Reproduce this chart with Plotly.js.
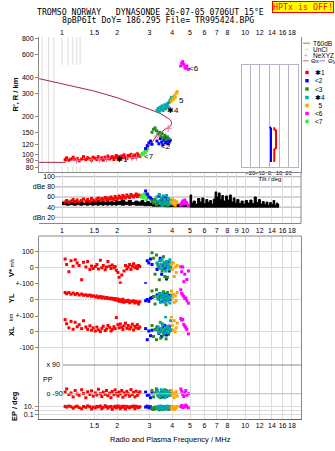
<!DOCTYPE html>
<html>
<head>
<meta charset="utf-8">
<script src="https://cdn.plot.ly/plotly-3.0.1.min.js"></script>
<style>
html,body{margin:0;padding:0;background:#fff}
#chart{width:335px;height:451px}
</style>
</head>
<body>
<div id="chart"></div>
<script>
// ---- axis ticks ----
const freqTicks = [1, 1.5, 2, 3, 4, 5, 6, 7, 8, 10, 12, 14, 16, 18];
const freqTicksMid = [1, 1.5, 2, 3, 4, 5, 6, 7, 8, 9, 10, 12, 14, 16, 18];
const heightTicks = [80, 90, 100, 120, 150, 200, 300, 400, 600, 800];
const ampTicks = [100, 80, 60, 40, 20];
const ampTickText = ['100', 'dBe 80', '60', '40', 'dBn 20'];
const tiltTicks = [-20, -10, 0, 10, 20];

// ---- model profile (plasma frequency / MHz vs height / km) ----
const profF = [0.75,1.04,1.05,1.3,1.6,2.0,2.3,2.56,2.8,3.02,3.28,3.5,3.65,3.82,3.92,3.97,3.94,3.85,3.65,3.43,3.0,2.45,2.0,1.5,1.25,1.0,0.75];
const profH = [87.5,87.5,91,92,93,94.5,95.5,96,106,119,140,152,158,163,168,176,183,190,200,210,226,252,278,313,332,360,391];
const neF = [1.2,1.45,1.6,1.75,2.25,2.4,2.55,3.3,3.8];
const neH = [91,92,93,93.5,95,95.5,96,140,161];

// ---- tilt profile ----
const thetaXH = [88,95,110,113,130,155,158,164];
const thetaX  = [5.0,5.0,5.0,6.8,6.8,6.8,5.0,5.0];
const thetaYH = [88,120,160,165];
const thetaY  = [1.6,1.6,1.6,0.3];

// ---- echo group 1 (red) ----
const redF = [1.04,1.06,1.09,1.12,1.15,1.18,1.21,1.24,1.28,1.31,1.35,1.38,1.42,1.45,1.48,1.52,1.55,1.58,1.62,1.65,1.68,1.72,1.75,1.78,1.82,1.85,1.88,1.92,1.95,1.98,2.02,2.05,2.08,2.12,2.15,2.18,2.22,2.26,2.30,2.34,2.38,2.42,2.46,2.50,2.54,2.58,2.62,2.66];
const redH = [92,95,91,93,96,92,94,90,93,97,92,95,93,91,96,94,92,97,93,95,91,96,94,98,93,95,97,92,96,99,94,97,93,98,95,100,96,94,99,97,101,95,98,100,96,102,99,97];
const redA = [50,53,49,52,55,51,54,50,53,56,52,55,51,57,54,52,56,58,53,57,55,59,54,58,56,60,57,55,61,58,56,62,59,57,63,60,58,64,61,59,65,62,60,63,66,61,64,62];
const redV = [55,20,-25,45,10,50,30,15,-75,35,5,40,-10,12,-5,8,20,-8,48,0,15,-12,5,40,10,-5,18,0,8,-15,-30,-60,-95,-45,-110,-20,15,-8,5,20,-10,10,25,0,12,-5,15,8];
const redYL = [45,38,46,35,42,33,40,30,36,28,32,25,30,22,26,18,24,15,20,12,18,10,14,8,12,5,10,2,8,-2,5,-8,0,-12,3,-15,-5,-10,-2,-18,-8,-12,-5,-20,-10,-15,-25,-12];
const redXL = [77,51,25,66,16,60,32,45,20,70,30,15,38,10,25,5,30,12,2,22,35,8,18,40,28,5,15,32,20,90,45,25,50,30,15,38,55,22,40,18,30,48,12,35,25,45,20,30];
const redPP = [-80,-60,-95,-85,-110,-70,-92,-100,-65,-88,-115,-78,-95,-72,-105,-85,-98,-62,-90,-108,-80,-94,-70,-102,-86,-115,-76,-96,-66,-88,-104,-80,-92,-70,-112,-85,-98,-75,-90,-106,-64,-95,-82,-110,-74,-100,-88,-78];
const redEP = [12,8,15,10,4,9,14,6,3,11,7,16,10,2.5,8,5,12,9,15,3,7,18,10,4,9,12,2,8,13,5,16,9,3,11,7,14,2.5,12,8,5,11,9,15,3,13,8,6,10];

// ---- echo group 7 (lime) ----
const limeF = [2.7,2.74,2.78,2.82,2.86,2.9,2.94];
const limeH = [100,103,101,105,104,108,112];
const limeA = [60,64,58,66,62,55,63];

// ---- echo group 2 (blue) ----
const blueF = [2.86,2.92,2.98,3.04,3.1,3.3,3.38,3.44,3.5,3.55,3.6,3.64,3.68,3.72,3.76,3.8,3.85,3.9];
const blueH = [112,118,124,128,121,128,122,134,126,120,130,136,124,128,132,122,126,130];
const blueA = [72,66,60,58,55,50,62,48,56,52,60,47,54,58,50,46,53,49];
const blueV = [-100,45,30,55,20,-10,5,60,-40,15,-5,25,0,-70,10,35,-20,5];
const blueYL = [-5,2,-8,10,15,30,5,20,-10,25,8,35,0,18,-5,12,28,3];
const blueXL = [20,-50,5,-25,10,30,-10,15,-30,25,-5,40,0,-20,12,-15,35,8];
const bluePP = [-80,-100,-95,-115,-85,-70,-105,-90,-78,-110,-88,-96,-75,-108,-92,-84,-100,-72];
const blueEP = [8,14,5,10,3,6,12,4,9,2,7,11,5,8,3,6,10,4];

// ---- echo group 3 (green) ----
const greenF = [3.1,3.16,3.22,3.28,3.34,3.4,3.46,3.52,3.58,3.64,3.7,3.76,3.82];
const greenH = [150,158,162,154,145,150,140,146,136,142,132,138,134];
const greenA = [52,48,55,45,50,47,53,44,49,46,51,43,48];
const greenV = [95,60,-40,80,20,-75,45,-20,70,-55,30,-60,10];
const greenYL = [55,20,-25,62,10,40,-15,30,50,5,-30,45,15];
const greenXL = [40,-30,15,-50,25,5,-40,50,-20,10,-45,30,-10];
const greenPP = [-70,-110,-85,-60,-100,-92,-115,-78,-95,-65,-105,-88,-80];
const greenEP = [5,2,8,3,6,1.5,4,10,2.5,7,3,5,1.8];

// ---- echo group 4 (teal) ----
const tealF = [3.3,3.35,3.4,3.44,3.48,3.52,3.56,3.6,3.64,3.68,3.72,3.76,3.8,3.84,3.88,3.92,3.96];
const tealH = [222,230,218,235,226,240,221,232,245,228,238,250,236,255,262,270,280];
const tealA = [60,52,65,48,58,44,62,50,55,46,63,49,57,45,52,47,54];
const tealV = [30,10,45,-5,20,55,0,35,15,-20,40,5,25,-10,50,12,30];
const tealYL = [20,5,35,-10,15,40,0,25,-15,10,30,-5,22,8,-20,15,28];
const tealXL = [10,30,-5,60,20,0,45,15,-8,95,25,5,35,-3,18,70,12];
const tealPP = [-75,-95,-110,-85,-65,-100,-90,-78,-115,-88,-70,-105,-92,-80,-98,-72,-86];
const tealEP = [6,12,3,9,15,4,8,2,11,5,7,14,3,10,6,4,8];

// ---- echo group 5 (orange) ----
const orangeF = [3.95,4.0,4.05,4.1,4.15,4.2,4.25];
const orangeH = [262,275,270,288,280,300,310];
const orangeA = [50,56,46,53,44,51,48];
const orangeV = [20,-10,30,-55,5,-30,15];
const orangeYL = [55,10,35,-15,25,-5,45];
const orangeXL = [95,40,10,70,0,25,55];
const orangePP = [-70,-100,-85,-115,-92,-78,-105];
const orangeEP = [6,3,10,2,8,4,12];

// ---- echo group 6 (magenta) ----
const magF = [4.45,4.5,4.56,4.62,4.68,4.74,4.8,4.9];
const magH = [490,515,530,505,480,470,490,462];
const magA = [44,48,52,46,54,50,47,43];
const magV = [6,-25,5,-88,-40,-109,-73,-20];
const magYL = [63,40,30,20,8,12,-5,-21];
const magXL = [84,74,78,47,36,27,15,-13];
const magPP = [-60,-75,-95,-108,-85,-70,-100,-90];
const magEP = [10,20,6,15,8,25,12,5];

// ---- background noise amplitude (dB) ----
const noiseF = [1.0,1.05,1.1,1.15,1.2,1.25,1.3,1.35,1.4,1.45,1.5,1.55,1.6,1.65,1.7,1.75,1.8,1.85,1.9,1.95,2.0,2.1,2.2,2.3,2.4,2.5,2.6,2.7,2.8,2.9,3.0,3.1,3.2,3.3,3.4,3.5,3.6,3.7,3.8,3.9,4.0,4.2,4.4,4.6,4.8,5.0,5.1,5.2,5.35,5.5,5.65,5.8,5.95,6.1,6.25,6.4,6.55,6.7,6.85,7.0,7.15,7.3,7.45,7.6,7.8,8.0,8.2,8.4,8.6,8.8,9.0,9.25,9.5,9.75,10.0,10.3,10.6,10.9,11.2,11.5,11.8,12.1,12.4,12.7,13.0,13.3,13.6,13.9,14.2,14.5,14.8,15.1,15.3];
const noiseTop = [50,52,49,53,50,52,48,53,50,51,49,53,50,52,49,54,50,52,49,53,51,54,50,53,49,52,50,53,49,51,48,50,47,49,46,48,45,47,45,47,44,46,44,45,44,64,48,52,46,57,50,58,47,55,49,53,46,56,70,60,68,55,63,52,62,54,64,50,58,48,55,47,52,46,53,48,54,47,60,49,55,46,51,45,50,44,49,45,53,44,48,45,43];
const noiseBase = [45,44,45,44,45,44,45,44,45,44,45,44,45,44,45,44,45,44,45,44,45,44,45,44,45,44,44,44,43,43,43,42,42,42,42,42,42,41,41,41,41,41,41,41,41,40,40,40,40,40,40,40,40,40,40,40,40,40,40,40,40,40,40,40,40,40,40,40,40,40,40,40,40,40,40,40,40,40,40,40,40,40,40,40,40,40,40,40,40,40,40,40,40];

const groups = [
  {color:'#ff0000', f:redF, h:redH, a:redA, v:redV, yl:redYL, xl:redXL, pp:redPP, ep:redEP},
  {color:'#33ee33', f:limeF, h:limeH, a:limeA},
  {color:'#0000ff', f:blueF, h:blueH, a:blueA, v:blueV, yl:blueYL, xl:blueXL, pp:bluePP, ep:blueEP},
  {color:'#228b22', f:greenF, h:greenH, a:greenA, v:greenV, yl:greenYL, xl:greenXL, pp:greenPP, ep:greenEP},
  {color:'#00a8a8', f:tealF, h:tealH, a:tealA, v:tealV, yl:tealYL, xl:tealXL, pp:tealPP, ep:tealEP},
  {color:'#ffa500', f:orangeF, h:orangeH, a:orangeA, v:orangeV, yl:orangeYL, xl:orangeXL, pp:orangePP, ep:orangeEP},
  {color:'#ff00ff', f:magF, h:magH, a:magA, v:magV, yl:magYL, xl:magXL, pp:magPP, ep:magEP}
];
const legendOrder = [0, 2, 3, 4, 5, 6, 1];
const legendText = ['\u27311', '<2', '<3', '\u27314', '\u00a0\u00a05', '<6', '<7'];

function pts(x, y, xa, ya, color, size) {
  return {type:'scatter', mode:'markers', x:x, y:y, xaxis:xa, yaxis:ya, hoverinfo:'skip',
    marker:{symbol:'square', size:size || 3, color:color, line:{width:0}}};
}

const traces = [];
// noise floor band
traces.push({type:'scatter', mode:'lines', x:noiseF, y:noiseBase, xaxis:'x3', yaxis:'y2',
  line:{color:'#000', width:1, shape:'hv'}, hoverinfo:'skip'});
traces.push({type:'scatter', mode:'lines', x:noiseF, y:noiseTop, xaxis:'x3', yaxis:'y2',
  line:{color:'#000', width:1, shape:'hv'}, fill:'tonexty', fillcolor:'#000', hoverinfo:'skip'});
// model profile
traces.push({type:'scatter', mode:'lines', x:profF, y:profH, xaxis:'x', yaxis:'y',
  line:{color:'#a8264a', width:1}, hoverinfo:'skip'});
// echoes
groups.forEach(g => {
  traces.push(pts(g.f, g.h, 'x', 'y', g.color, 3));
  traces.push(pts(g.f, g.a, 'x3', 'y2', g.color, 3));
  if (g.v) {
    traces.push(pts(g.f, g.v, 'x4', 'y3', g.color, 3));
    traces.push(pts(g.f, g.yl, 'x4', 'y4', g.color, 3));
    traces.push(pts(g.f, g.xl, 'x4', 'y5', g.color, 3));
    traces.push(pts(g.f, g.pp, 'x4', 'y6', g.color, 3));
    traces.push(pts(g.f, g.ep, 'x4', 'y7', g.color, 3));
  }
});
// electron density markers
traces.push({type:'scatter', mode:'markers', x:neF, y:neH, xaxis:'x', yaxis:'y', hoverinfo:'skip',
  marker:{symbol:'cross-thin', size:5, color:'#f06e9e', line:{width:1, color:'#f06e9e'}}});
// tilt
traces.push({type:'scatter', mode:'lines', x:thetaY, y:thetaYH, xaxis:'x2', yaxis:'y8',
  line:{color:'#0000ff', width:2}, hoverinfo:'skip'});
traces.push({type:'scatter', mode:'lines', x:thetaX, y:thetaXH, xaxis:'x2', yaxis:'y8',
  line:{color:'#ff0000', width:2}, hoverinfo:'skip'});

const FONT = 'Liberation Sans, Arial, sans-serif';
const MONO = 'DejaVu Sans Mono, monospace';
const tickFont = {family:FONT, size:7, color:'#000'};
const fRange = [-0.12555, 1.30459];
const GRID = '#dcdcdc';

function freqAxis(extra) {
  return Object.assign({type:'log', range:fRange, tickmode:'array', tickvals:freqTicks,
    ticktext:freqTicks.map(String), tickangle:0, showgrid:true, gridcolor:GRID, gridwidth:1,
    zeroline:false, ticks:'', tickfont:tickFont, showline:false}, extra);
}
function valAxis(extra) {
  return Object.assign({showline:true, mirror:true, linecolor:'#888', linewidth:1,
    ticks:'outside', ticklen:3, tickcolor:'#888', tickfont:tickFont, zeroline:false,
    tickangle:0, showgrid:true, gridcolor:GRID}, extra);
}

// pixel -> paper helpers for the fixed 335x451 frame
const PL = 39, PR = 301, PT = 37, PB = 419;
const px = p => (p - PL) / (PR - PL);
const py = p => (PB - p) / (PB - PT);

// inset frame (pixels)
const INS = {l:242.3, r:297.7, t:65, b:166.7};

const layout = {
  width:335, height:451,
  margin:{l:39, r:34, t:37, b:32, pad:0},
  paper_bgcolor:'#fff', plot_bgcolor:'#fff',
  showlegend:false,
  font:{family:FONT, size:7, color:'#000'},
  xaxis: freqAxis({anchor:'y', side:'top', domain:[0,1], showgrid:false}),
  xaxis2: {type:'linear', range:[-28.3, 29.4], domain:[px(INS.l), px(INS.r)], anchor:'y8',
    tickmode:'array', tickvals:tiltTicks, tickangle:0, tickfont:{family:FONT, size:6, color:'#000'},
    showline:true, mirror:true, linecolor:'#b4b4c8', showgrid:true, gridcolor:'#b4b4c8',
    zeroline:false, ticks:'', title:{text:'Tilt / deg', font:{family:FONT, size:6}, standoff:0}},
  xaxis3: freqAxis({anchor:'y2', domain:[0,1], tickvals:freqTicksMid, ticktext:freqTicksMid.map(String),
    showline:true, mirror:true, linecolor:'#888'}),
  xaxis4: freqAxis({anchor:'y7', domain:[0,1], showline:true, linecolor:'#666'}),
  yaxis: valAxis({domain:[py(173), 1], type:'log', range:[1.8595, 2.9154], anchor:'x',
    tickmode:'array', tickvals:heightTicks, ticktext:heightTicks.map(String), showgrid:false}),
  yaxis2: valAxis({domain:[py(223.3), py(173)], range:[8.2, 107.3], anchor:'free', position:px(55),
    tickmode:'array', tickvals:ampTicks, ticktext:ampTickText, showgrid:false, showline:false,
    ticks:'', mirror:false}),
  yaxis3: valAxis({domain:[py(283.7), py(236)], range:[-100, 200], anchor:'x4',
    tickmode:'array', tickvals:[100, 0], ticktext:['100', '0']}),
  yaxis4: valAxis({domain:[py(316), py(283.7)], range:[-100, 100], anchor:'x4',
    tickmode:'array', tickvals:[100, 0, -100], ticktext:['+-100', '0', '+-100']}),
  yaxis5: valAxis({domain:[py(356), py(316)], range:[-153.3, 100], anchor:'x4',
    tickmode:'array', tickvals:[0, -100], ticktext:['0', '-100']}),
  yaxis6: valAxis({domain:[py(400), py(356)], range:[-129.5, 146.5], anchor:'x4',
    tickmode:'array', tickvals:[90, -90], ticktext:['x 90', 'o -90'], ticks:'',
    ticklabelposition:'inside', ticklabelstandoff:6, showgrid:false}),
  yaxis7: valAxis({domain:[0, py(400)], type:'log', range:[-2.237, 2.763], anchor:'x4',
    tickmode:'array', tickvals:[10, 1, 0.1], ticktext:['10.', '', '0.1']}),
  yaxis8: {domain:[py(INS.b), py(INS.t)], type:'log', range:[1.9084, 2.698], anchor:'x2',
    showticklabels:false, showline:true, mirror:true, linecolor:'#b4b4c8', showgrid:false,
    ticks:'', zeroline:false},
  shapes: [],
  annotations: []
};

const S = layout.shapes, A = layout.annotations;

// vertical frequency grid of the height panel, interrupted by the tilt inset
const insetLo = Math.pow(10, fRange[0] + (INS.l - PL) / (PR - PL) * (fRange[1] - fRange[0]));
const insetHi = Math.pow(10, fRange[0] + (INS.r - PL) / (PR - PL) * (fRange[1] - fRange[0]));
freqTicks.forEach(f => {
  const seg = (y0, y1) => S.push({type:'line', xref:'x', yref:'paper', x0:Math.log10(f), x1:Math.log10(f),
    y0:y0, y1:y1, line:{color:GRID, width:1}, layer:'below'});
  if (f > insetLo && f < insetHi) {
    seg(py(INS.t), 1);
    seg(py(173), py(INS.b));
  } else {
    seg(py(173), 1);
  }
});

// amplitude grid lines (right of the labels) and panel right edge
ampTicks.forEach(v => S.push({type:'line', xref:'paper', yref:'y2', x0:px(55), x1:1, y0:v, y1:v,
  line:{color:v === 20 ? '#b8b8ee' : '#aaa', width:1}, layer:'below'}));
S.push({type:'line', xref:'paper', yref:'paper', x0:1, x1:1, y0:py(223.3), y1:py(173),
  line:{color:'#888', width:1}});
// lower panel top frame
S.push({type:'line', xref:'paper', yref:'paper', x0:0, x1:1, y0:py(236), y1:py(236),
  line:{color:'#888', width:1}});
// polarisation reference lines
S.push({type:'line', xref:'paper', yref:'y6', x0:px(63), x1:1, y0:90, y1:90, line:{color:'#888', width:1}});
S.push({type:'line', xref:'paper', yref:'y6', x0:px(63), x1:1, y0:-90, y1:-90, line:{color:'#bbb', width:1}});

// paper annotation helper
const note = (text, x, y, font, extra) => A.push(Object.assign({xref:'paper', yref:'paper',
  x:px(x), y:py(y), xanchor:'center', yanchor:'middle', showarrow:false, text:text,
  font:Object.assign({family:FONT, size:7, color:'#000'}, font)}, extra));

// header
const nb = '\u00a0';
note('TROMSO NORWAY' + nb + nb + nb + 'DYNASONDE 26-07-05 0706UT 15\u00b0E', 150, 12, {family:MONO, size:8.2});
note('8pBP6It DoY= 186.295 File= TR995424.BPG', 157.5, 20.3, {family:MONO, size:8.2});
note('HPTx is OFF!', 302.5, 7, {family:MONO, size:8.3, color:'#ff0000'},
  {bgcolor:'#ffff00', bordercolor:'#ff0000', borderwidth:1, borderpad:0});

// axis titles
const rot = (text, x, y, size) => note(text, x, y, {size:size || 7.5}, {textangle:-90});
rot("<b>R', R / km</b>", 14.5, 95);
rot("<b>V*</b> <span style='font-size:5px'>m/s</span>", 11, 268);
rot('<b>YL</b>', 11, 298);
rot("<span style='font-size:5.5px'>km</span>", 11, 317);
rot('<b>XL</b>', 11, 331);
rot('<b>EP / deg</b>', 14, 406);
note('Radio and Plasma Frequency / MHz', 170, 439, {size:7.5});
note('PP', 47.5, 379, {size:7});

// echo labels in the height panel (log axes take log10 positions)
const lab = (text, f, h) => A.push({xref:'x', yref:'y', x:Math.log10(f), y:Math.log10(h),
  showarrow:false, xanchor:'left', yanchor:'middle', text:text, font:{family:FONT, size:8, color:'#000'}});
lab('\u27311', 1.93, 91.3);
lab('<7', 2.72, 96.9);
lab('<2', 3.39, 115.8);
lab('\u27314', 3.65, 223);
lab('5', 4.23, 263.6);
lab('<6', 4.79, 470);

// legend
const legT = (text, x, y, color, anchor, size) => note(text, x, y, {size:size || 6.5, color:color || '#000'},
  {xanchor:anchor || 'left'});
S.push({type:'line', xref:'paper', yref:'paper', x0:px(303), x1:px(310), y0:py(43.3), y1:py(43.3), line:{color:'#aaa', width:1.5}});
legT('T60dB', 311, 43.3);
legT('\u00b7', 307, 49, '#000', 'center');
legT('UnCl', 311, 49);
legT('+', 306, 55, '#f06e9e', 'center');
legT('NeXYZ', 311, 55);
S.push({type:'line', xref:'paper', yref:'paper', x0:px(303), x1:px(308.5), y0:py(60.8), y1:py(60.8), line:{color:'#e0607a', width:1}});
legT('\u0398x', 309, 60.8, '#000', 'left', 6);
S.push({type:'line', xref:'paper', yref:'paper', x0:px(319.5), x1:px(325), y0:py(60.8), y1:py(60.8), line:{color:'#8888dd', width:1}});
legT('\u0398y', 325.5, 60.8, '#000', 'left', 6);
const legY = [72.5, 80.7, 89, 97.5, 105.5, 113.5, 121.5];
legendOrder.forEach((gi, k) => {
  const y = legY[k];
  S.push({type:'rect', xref:'paper', yref:'paper', x0:px(305.3), x1:px(308.7), y0:py(y + 1.7), y1:py(y - 1.7),
    fillcolor:groups[gi].color, line:{width:0}});
  legT(legendText[k], 313, y);
});

Plotly.newPlot('chart', traces, layout, {staticPlot:true, displayModeBar:false});
</script>
</body>
</html>
